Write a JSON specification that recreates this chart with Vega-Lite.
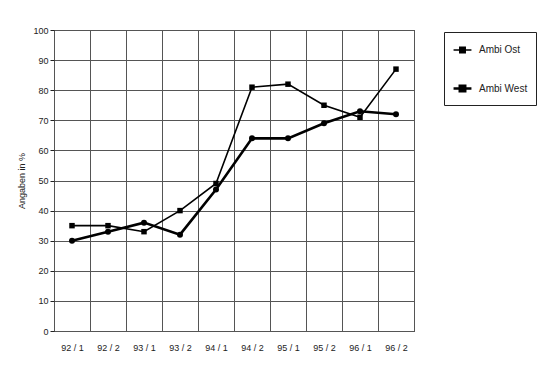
{
  "$schema": "https://vega.github.io/schema/vega-lite/v6.json",
  "autosize": "none",
  "width": 360,
  "height": 301,
  "padding": {"left": 54, "top": 30, "right": 136, "bottom": 50},
  "background": "white",
  "config": {
    "view": {"stroke": "#222", "strokeWidth": 1},
    "font": "Liberation Sans",
    "axis": {"labelFont": "Liberation Sans", "titleFont": "Liberation Sans", "labelColor": "#222", "titleColor": "#222", "gridColor": "#555", "gridOpacity": 1, "gridWidth": 1, "domain": false, "labelOverlap": false}
  },
  "data": {
    "values": [
      {"period": "92 / 1", "series": "Ambi Ost", "value": 35},
      {"period": "92 / 2", "series": "Ambi Ost", "value": 35},
      {"period": "93 / 1", "series": "Ambi Ost", "value": 33},
      {"period": "93 / 2", "series": "Ambi Ost", "value": 40},
      {"period": "94 / 1", "series": "Ambi Ost", "value": 49},
      {"period": "94 / 2", "series": "Ambi Ost", "value": 81},
      {"period": "95 / 1", "series": "Ambi Ost", "value": 82},
      {"period": "95 / 2", "series": "Ambi Ost", "value": 75},
      {"period": "96 / 1", "series": "Ambi Ost", "value": 71},
      {"period": "96 / 2", "series": "Ambi Ost", "value": 87},
      {"period": "92 / 1", "series": "Ambi West", "value": 30},
      {"period": "92 / 2", "series": "Ambi West", "value": 33},
      {"period": "93 / 1", "series": "Ambi West", "value": 36},
      {"period": "93 / 2", "series": "Ambi West", "value": 32},
      {"period": "94 / 1", "series": "Ambi West", "value": 47},
      {"period": "94 / 2", "series": "Ambi West", "value": 64},
      {"period": "95 / 1", "series": "Ambi West", "value": 64},
      {"period": "95 / 2", "series": "Ambi West", "value": 69},
      {"period": "96 / 1", "series": "Ambi West", "value": 73},
      {"period": "96 / 2", "series": "Ambi West", "value": 72}
    ]
  },
  "encoding": {
    "x": {
      "field": "period", "type": "ordinal", "sort": null,
      "scale": {"type": "band", "paddingInner": 0, "paddingOuter": 0},
      "axis": {"title": null, "labelAngle": 0, "labelFontSize": 9, "ticks": false, "labelPadding": 12, "grid": true, "tickBand": "extent"}
    },
    "y": {
      "field": "value", "type": "quantitative",
      "scale": {"domain": [0, 100], "nice": false},
      "axis": {"title": "Angaben in %", "titleFontSize": 9, "titleFontWeight": "normal", "titlePadding": 6, "labelFontSize": 9, "values": [0,10,20,30,40,50,60,70,80,90,100], "ticks": true, "tickSize": 4, "tickColor": "#222", "labelPadding": 2, "grid": true}
    }
  },
  "layer": [
    {
      "mark": {"type": "line", "color": "black"},
      "encoding": {
        "detail": {"field": "series"},
        "strokeWidth": {
          "field": "series", "type": "nominal",
          "scale": {"domain": ["Ambi Ost", "Ambi West"], "range": [1.6, 2.6]},
          "legend": {
            "title": null, "orient": "none", "legendX": 390, "legendY": 2,
            "strokeColor": "#222", "fillColor": "white", "padding": 8,
            "symbolType": "M-1,0H1M-0.3,-0.3H0.3V0.3H-0.3Z",
            "symbolSize": 320, "symbolFillColor": "black", "symbolStrokeColor": "black",
            "labelFont": "Liberation Sans", "labelFontSize": 10, "labelColor": "#222",
            "rowPadding": 22, "labelOffset": 6, "symbolOffset": 0
          }
        }
      }
    },
    {
      "transform": [{"filter": "datum.series === 'Ambi Ost'"}],
      "mark": {"type": "point", "shape": "square", "filled": true, "color": "black", "opacity": 1, "size": 30}
    },
    {
      "transform": [{"filter": "datum.series === 'Ambi West'"}],
      "mark": {"type": "point", "shape": "circle", "filled": true, "color": "black", "opacity": 1, "size": 36}
    }
  ]
}
